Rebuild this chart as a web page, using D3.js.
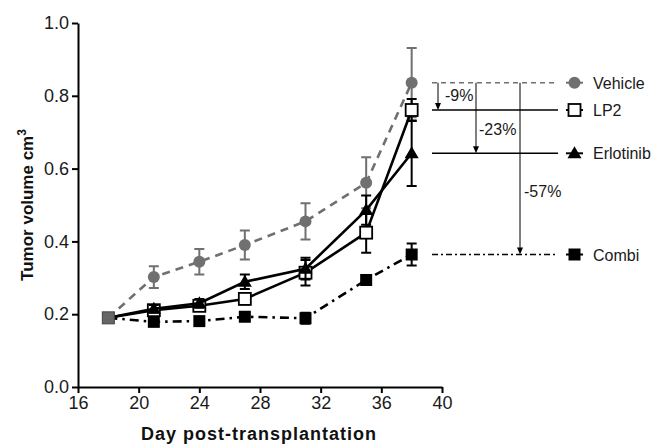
<!DOCTYPE html>
<html>
<head>
<meta charset="utf-8">
<script src="https://cdn.jsdelivr.net/npm/d3@7.9.0/dist/d3.min.js"></script>
<style>
  body { margin: 0; background: #fff; }
  svg { display: block; font-family: "Liberation Sans", Arial, sans-serif; }
</style>
</head>
<body>
<div id="chart"></div>
<script>
// data
const days = [18, 21, 24, 27, 31, 35, 38];
const vehicle    = [0.19, 0.302, 0.344, 0.390, 0.455, 0.561, 0.836];
const vehicleErr = [0, 0.030, 0.035, 0.040, 0.050, 0.070, 0.095];
const lp2        = [0.19, 0.211, 0.223, 0.242, 0.314, 0.424, 0.761];
const lp2Err     = [0, 0.010, 0.012, 0.015, 0.035, 0.055, 0.030];
const erlotinib  = [0.19, 0.215, 0.230, 0.289, 0.325, 0.486, 0.642];
const erloErr    = [0, 0.010, 0.012, 0.020, 0.030, 0.040, 0.090];
const combi      = [0.19, 0.179, 0.181, 0.193, 0.189, 0.294, 0.364];
const combiErr   = [0, 0.008, 0.008, 0.008, 0.015, 0.010, 0.030];
const xTicks = [16, 20, 24, 28, 32, 36, 40];
const yTicks = [0, 0.2, 0.4, 0.6, 0.8, 1.0];
const reductions = ["-9%", "-23%", "-57%"];

const W = 665, H = 445;
const svg = d3.select("#chart").append("svg")
    .attr("width", W).attr("height", H);

const x = d3.scaleLinear().domain([16, 40]).range([78, 442]);
const y = d3.scaleLinear().domain([0, 1]).range([387, 23]);

// axes
const xAxis = svg.append("g")
    .attr("transform", `translate(0,${y(0)})`)
    .call(d3.axisBottom(x).tickValues(xTicks).tickSize(6).tickSizeOuter(0).tickPadding(3));
const yAxis = svg.append("g")
    .attr("transform", `translate(${x(16)},0)`)
    .call(d3.axisLeft(y).tickValues(yTicks).tickFormat(d3.format(".1f")).tickSize(6).tickSizeOuter(0).tickPadding(3));
[xAxis, yAxis].forEach(a => {
  a.select(".domain").attr("stroke", "#000").attr("stroke-width", 2);
  a.selectAll(".tick line").attr("stroke", "#000").attr("stroke-width", 2);
  a.selectAll(".tick text").attr("font-size", 18).attr("fill", "#1a1a1a")
    .attr("font-family", "Liberation Sans, Arial, sans-serif");
});

svg.append("text")
    .attr("x", 259).attr("y", 440)
    .attr("text-anchor", "middle")
    .attr("font-size", 18).attr("font-weight", "bold")
    .attr("letter-spacing", 1)
    .attr("fill", "#111")
    .text("Day post-transplantation");

const yt = svg.append("text")
    .attr("transform", `translate(33,${y(0.5)}) rotate(-90)`)
    .attr("text-anchor", "middle")
    .attr("font-size", 17).attr("font-weight", "bold")
    .attr("fill", "#111");
yt.append("tspan").text("Tumor volume cm");
yt.append("tspan").attr("font-size", 12).attr("dy", -7).text("3");

const series = [
  { name: "Vehicle",   vals: vehicle,   err: vehicleErr, color: "#707070", dash: "8,6",         marker: "circle" },
  { name: "LP2",       vals: lp2,       err: lp2Err,     color: "#000",    dash: null,          marker: "open" },
  { name: "Erlotinib", vals: erlotinib, err: erloErr,    color: "#000",    dash: null,          marker: "tri" },
  { name: "Combi",     vals: combi,     err: combiErr,   color: "#000",    dash: "9,5,2.5,5",   marker: "square" }
];

const line = d3.line().x(d => x(d[0])).y(d => y(d[1]));

function drawMarker(g, type, cx, cy, color) {
  if (type === "circle") {
    g.append("circle").attr("cx", cx).attr("cy", cy).attr("r", 6).attr("fill", color);
  } else if (type === "open") {
    g.append("rect").attr("x", cx - 6).attr("y", cy - 6).attr("width", 12).attr("height", 12)
      .attr("fill", "#fff").attr("stroke", "#000").attr("stroke-width", 1.8);
  } else if (type === "square") {
    g.append("rect").attr("x", cx - 6).attr("y", cy - 6).attr("width", 12).attr("height", 12)
      .attr("fill", "#000");
  } else if (type === "tri") {
    g.append("path").attr("d", `M${cx},${cy - 7}L${cx + 7},${cy + 5}L${cx - 7},${cy + 5}Z`)
      .attr("fill", "#000");
  }
}

const plot = svg.append("g");
series.forEach(s => {
  const pts = days.map((d, i) => [d, s.vals[i], s.err[i]]);
  const g = plot.append("g");
  // error bars
  pts.forEach(p => {
    if (!p[2]) return;
    const cx = x(p[0]), y0 = y(p[1] - p[2]), y1 = y(p[1] + p[2]);
    g.append("path")
      .attr("d", `M${cx},${y0}V${y1}M${cx - 5},${y0}H${cx + 5}M${cx - 5},${y1}H${cx + 5}`)
      .attr("stroke", s.color).attr("stroke-width", 2).attr("fill", "none");
  });
  g.append("path").datum(pts)
    .attr("d", line)
    .attr("fill", "none")
    .attr("stroke", s.color)
    .attr("stroke-width", 2.6)
    .attr("stroke-dasharray", s.dash);
  pts.slice(1).forEach(p => drawMarker(g, s.marker, x(p[0]), y(p[1]), s.color));
});

// shared baseline point at day 18
plot.append("rect")
    .attr("x", x(days[0]) - 6).attr("y", y(vehicle[0]) - 6)
    .attr("width", 12).attr("height", 12)
    .attr("fill", "#666").attr("stroke", "#444").attr("stroke-width", 1);

// legend / reference lines at final values
const last = days.length - 1;
const annX0 = 432, annX1 = 558;
const leg = svg.append("g");
series.forEach(s => {
  const yy = y(s.vals[last]);
  leg.append("line")
    .attr("x1", annX0).attr("x2", annX1).attr("y1", yy).attr("y2", yy)
    .attr("stroke", s.color).attr("stroke-width", 1.6)
    .attr("stroke-dasharray", s.dash ? (s.name === "Vehicle" ? "5,4" : "6,3,2,3") : null);
  leg.append("line")
    .attr("x1", 566).attr("x2", 583).attr("y1", yy).attr("y2", yy)
    .attr("stroke", s.color).attr("stroke-width", 2);
  drawMarker(leg, s.marker, 574.5, yy, s.color);
  leg.append("text")
    .attr("x", 593).attr("y", yy + 6)
    .attr("font-size", 16).attr("fill", "#1a1a1a")
    .text(s.name);
});

// reduction arrows from vehicle to each treatment
const arrowX = [438, 476, 520];
const labelPos = [[445, 101], [479, 135], [524, 197]];
series.slice(1).forEach((s, i) => {
  const ax = arrowX[i];
  const yTop = y(vehicle[last]);
  const yEnd = y(s.vals[last]);
  leg.append("line")
    .attr("x1", ax).attr("x2", ax).attr("y1", yTop).attr("y2", yEnd - 6)
    .attr("stroke", "#000").attr("stroke-width", 1);
  leg.append("path")
    .attr("d", `M${ax - 3},${yEnd - 7}L${ax + 3},${yEnd - 7}L${ax},${yEnd}Z`)
    .attr("fill", "#000");
  leg.append("text")
    .attr("x", labelPos[i][0]).attr("y", labelPos[i][1])
    .attr("font-size", 16).attr("fill", "#1a1a1a")
    .text(reductions[i]);
});
</script>
</body>
</html>
